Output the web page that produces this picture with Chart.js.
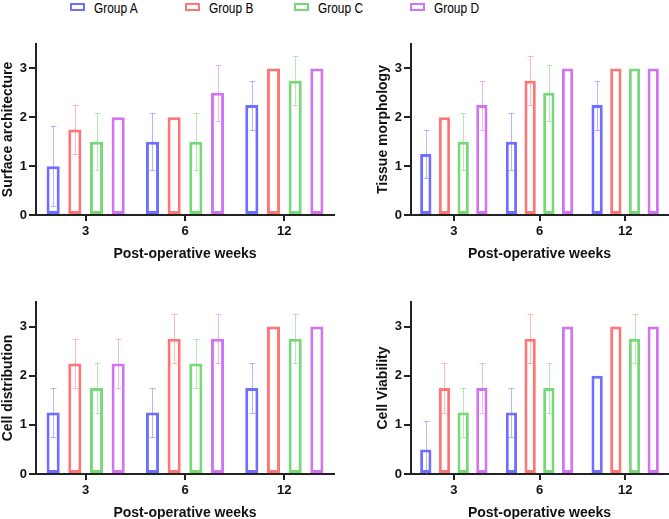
<!DOCTYPE html>
<html>
<head>
<meta charset="utf-8">
<script src="https://cdn.jsdelivr.net/npm/chart.js@4"></script>
<style>
  body { margin: 0; background: #fff; width: 669px; height: 519px; position: relative; overflow: hidden; font-family: "Liberation Sans", Arial, sans-serif; }
  canvas { position: absolute; }
  .key { position: absolute; top: 3px; width: 11px; height: 4px; border: 2px solid; }
  .lab { position: absolute; top: 1px; font-size: 14px; line-height: 14px; color: #000; transform: scaleX(0.85); transform-origin: left top; white-space: nowrap; }
</style>
</head>
<body>
<div id="legend"></div>
<canvas id="surface" width="335" height="263" style="left:0px;top:0px"></canvas>
<canvas id="tissue" width="294" height="263" style="left:375px;top:0px"></canvas>
<canvas id="distribution" width="335" height="265" style="left:0px;top:257px"></canvas>
<canvas id="viability" width="294" height="265" style="left:375px;top:257px"></canvas>
<script>
// categories and groups
var weeks = ['3', '6', '12'];
var groups = ['Group A', 'Group B', 'Group C', 'Group D'];
var yTicks = [0, 1, 2, 3];

// means per group (A, B, C, D) at 3, 6, 12 weeks, and their SD
var surfaceMean = [[1, 1.5, 2.25], [1.75, 2, 3], [1.5, 1.5, 2.75], [2, 2.5, 3]];
var surfaceSD   = [[0.82, 0.58, 0.5], [0.5, 0, 0], [0.58, 0.58, 0.5], [0, 0.58, 0]];

var tissueMean = [[1.25, 1.5, 2.25], [2, 2.75, 3], [1.5, 2.5, 3], [2.25, 3, 3]];
var tissueSD   = [[0.5, 0.58, 0.5], [0, 0.5, 0], [0.58, 0.58, 0], [0.5, 0, 0]];

var distMean = [[1.25, 1.25, 1.75], [2.25, 2.75, 3], [1.75, 2.25, 2.75], [2.25, 2.75, 3]];
var distSD   = [[0.5, 0.5, 0.5], [0.5, 0.5, 0], [0.5, 0.5, 0.5], [0.5, 0.5, 0]];

var viabMean = [[0.5, 1.25, 2], [1.75, 2.75, 3], [1.25, 1.75, 2.75], [1.75, 3, 3]];
var viabSD   = [[0.58, 0.5, 0], [0.5, 0.5, 0], [0.5, 0.5, 0.5], [0.5, 0, 0]];

var colours = ['#6e6eff', '#ff7474', '#76d876', '#d274f2'];
var errColours = ['rgba(110,110,255,0.5)', 'rgba(255,116,116,0.5)', 'rgba(118,216,118,0.55)', 'rgba(210,116,242,0.5)'];

// legend
var legendX = [70, 185, 294, 410];
var legend = document.getElementById('legend');
groups.forEach(function (g, i) {
    var box = document.createElement('div');
    box.className = 'key';
    box.style.left = legendX[i] + 'px';
    box.style.borderColor = colours[i];
    legend.appendChild(box);
    var t = document.createElement('span');
    t.className = 'lab';
    t.style.left = (legendX[i] + 24) + 'px';
    t.textContent = g;
    legend.appendChild(t);
});

// draws mean +/- SD whiskers on top of each bar
var errorBars = {
    id: 'errorBars',
    afterDatasetsDraw: function (chart) {
        var ctx = chart.ctx;
        var y = chart.scales.y;
        chart.data.datasets.forEach(function (ds, i) {
            chart.getDatasetMeta(i).data.forEach(function (bar, j) {
                var sd = ds.errors[j];
                if (!sd) return;
                var m = ds.data[j];
                var x = Math.round(bar.x) + 0.5;
                var top = Math.round(y.getPixelForValue(m + sd)) + 0.5;
                var low = m - sd;
                var bot = Math.round(y.getPixelForValue(Math.max(0, low))) + 0.5;
                ctx.save();
                ctx.strokeStyle = ds.errorColor;
                ctx.lineWidth = 1;
                ctx.beginPath();
                ctx.moveTo(x, top); ctx.lineTo(x, bot);
                ctx.moveTo(x - 3, top); ctx.lineTo(x + 3, top);
                if (low > 0) { ctx.moveTo(x - 3, bot); ctx.lineTo(x + 3, bot); }
                ctx.stroke();
                ctx.restore();
            });
        });
    }
};

function makeChart(id, title, means, sds, padTop) {
    new Chart(document.getElementById(id), {
        type: 'bar',
        data: {
            labels: weeks,
            datasets: groups.map(function (g, i) {
                return {
                    label: g,
                    data: means[i],
                    errors: sds[i],
                    errorColor: errColours[i],
                    backgroundColor: '#fff',
                    borderColor: colours[i],
                    borderWidth: 3,
                    borderSkipped: false,
                    categoryPercentage: 0.873,
                    barPercentage: 0.605
                };
            })
        },
        options: {
            responsive: false,
            animation: false,
            devicePixelRatio: 1,
            layout: { padding: { top: padTop, right: 1, left: 0, bottom: 0 } },
            plugins: { legend: { display: false }, tooltip: { enabled: false } },
            scales: {
                x: {
                    afterFit: function (s) { s.height = 48; },
                    grid: { offset: false, drawOnChartArea: false, drawTicks: true, tickLength: 6, color: '#222', lineWidth: 2 },
                    border: { color: '#222', width: 2 },
                    ticks: { color: '#111', padding: 3, font: { family: 'Liberation Sans', size: 13, weight: 'bold' } },
                    title: { display: true, text: 'Post-operative weeks', color: '#111', padding: 0, font: { family: 'Liberation Sans', size: 14, weight: 'bold' } }
                },
                y: {
                    min: 0,
                    max: 3.5,
                    afterFit: function (s) { s.width = 36; },
                    afterBuildTicks: function (s) { s.ticks = yTicks.map(function (v) { return { value: v }; }); },
                    grid: { drawOnChartArea: false, drawTicks: true, tickLength: 7, color: '#222', lineWidth: 2 },
                    border: { color: '#222', width: 2 },
                    ticks: { color: '#111', padding: 2, font: { family: 'Liberation Sans', size: 13, weight: 'bold' } },
                    title: { display: true, text: title, color: '#111', padding: 0, font: { family: 'Liberation Sans', size: 14, weight: 'bold' } }
                }
            }
        },
        plugins: [errorBars]
    });
}

makeChart('surface', 'Surface architecture', surfaceMean, surfaceSD, 44);
makeChart('tissue', 'Tissue morphology', tissueMean, tissueSD, 44);
makeChart('distribution', 'Cell distribution', distMean, distSD, 45);
makeChart('viability', 'Cell Viability', viabMean, viabSD, 45);
</script>
</body>
</html>
